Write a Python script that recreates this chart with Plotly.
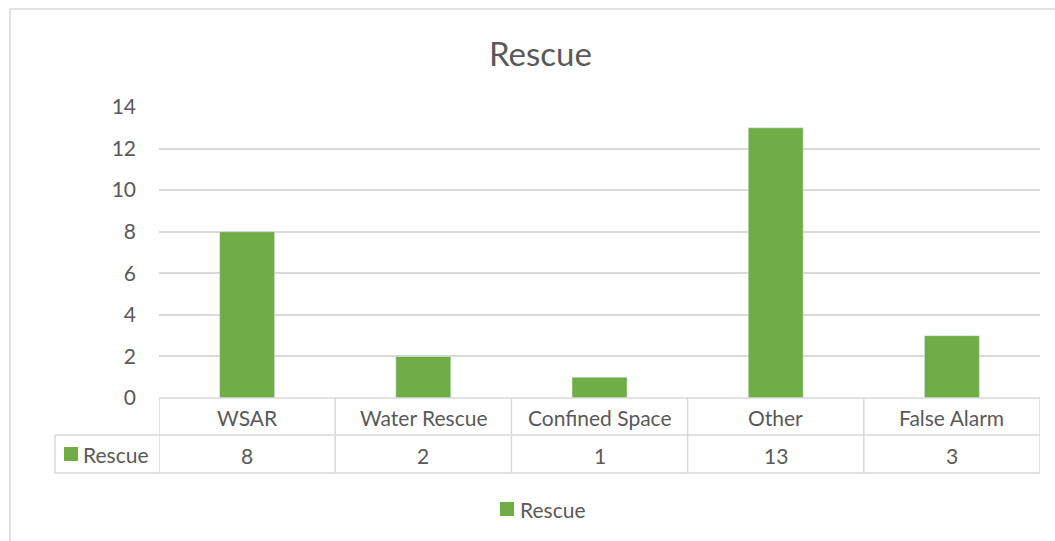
import plotly.graph_objects as go

categories = ['WSAR', 'Water Rescue', 'Confined Space', 'Other', 'False Alarm']
rescue = [8, 2, 1, 13, 3]
series_name = 'Rescue'
y_ticks = [0, 2, 4, 6, 8, 10, 12, 14]

W, H = 1055, 541
L, R, T, B = 159, 1040, 107, 398   # plot area in pixels
FONT = 'Lato'
GREY_TXT = '#595959'
GRID = '#d9d9d9'
GREEN = '#70ad47'
TXT = dict(size=21, color=GREY_TXT, family=FONT)

def py(p):
    # pixel y -> paper y
    return (B - p) / (B - T)

def px_(p):
    return (p - L) / (R - L)

xs = list(range(len(categories)))

fig = go.Figure()
fig.add_trace(go.Bar(x=xs, y=rescue, name=series_name, marker_color=GREEN,
                     width=0.312, showlegend=False))

shapes = []
annotations = []
line = dict(color=GRID, width=1.5)

# outer chart border (left + top)
shapes.append(dict(type='line', xref='paper', yref='paper', x0=px_(10), x1=px_(1060),
                   y0=py(9), y1=py(9), line=line))
shapes.append(dict(type='line', xref='paper', yref='paper', x0=px_(10), x1=px_(10),
                   y0=py(9), y1=py(545), line=line))

# data table lines
row1, row2 = 435, 473
left_cell = 55
shapes.append(dict(type='line', xref='paper', yref='paper', x0=0, x1=1,
                   y0=py(B), y1=py(B), line=line))
for yy in [row1, row2]:
    shapes.append(dict(type='line', xref='paper', yref='paper', x0=px_(left_cell), x1=1,
                       y0=py(yy), y1=py(yy), line=line))
shapes.append(dict(type='line', xref='paper', yref='paper', x0=px_(left_cell), x1=px_(left_cell),
                   y0=py(row1), y1=py(row2), line=line))
for i in range(len(categories) + 1):
    shapes.append(dict(type='line', xref='x', yref='paper', x0=i - 0.5, x1=i - 0.5,
                       y0=0, y1=py(row2), line=line))

for i, (c, v) in enumerate(zip(categories, rescue)):
    annotations.append(dict(x=i, y=py(417), xref='x', yref='paper', text=c, yanchor='middle',
                            showarrow=False, font=TXT))
    annotations.append(dict(x=i, y=py(455), xref='x', yref='paper', text=str(v), yanchor='middle',
                            showarrow=False, font=TXT))

# series label in table
shapes.append(dict(type='rect', xref='paper', yref='paper', x0=px_(64), x1=px_(78),
                   y0=py(461), y1=py(447), fillcolor=GREEN, line=dict(width=0)))
annotations.append(dict(x=px_(81), y=py(454), xref='paper', yref='paper', text=series_name,
                        xanchor='left', yanchor='middle', showarrow=False, font=TXT))

# bottom legend
shapes.append(dict(type='rect', xref='paper', yref='paper', x0=px_(500), x1=px_(514),
                   y0=py(516), y1=py(502), fillcolor=GREEN, line=dict(width=0)))
annotations.append(dict(x=px_(518), y=py(509), xref='paper', yref='paper', text=series_name,
                        xanchor='left', yanchor='middle', showarrow=False, font=TXT))

# title
annotations.append(dict(x=px_(540), y=py(53), xref='paper', yref='paper', text='Rescue',
                        yanchor='middle', showarrow=False,
                        font=dict(size=33, color=GREY_TXT, family=FONT)))

fig.update_layout(
    width=W, height=H, autosize=False,
    margin=dict(l=L, r=W - R, t=T, b=H - B, pad=0),
    plot_bgcolor='white', paper_bgcolor='white',
    shapes=shapes, annotations=annotations,
)
fig.update_xaxes(range=[-0.5, len(categories) - 0.5], showticklabels=False, showgrid=False,
                 zeroline=False, showline=False)
fig.update_yaxes(range=[0, 14], tickvals=y_ticks, showgrid=True, gridcolor=GRID, gridwidth=1.5,
                 zeroline=False, showline=False, ticks='', ticklabelstandoff=22,
                 tickfont=TXT)

fig.write_html("out.html", config={'displayModeBar': False},
               post_script="document.body.style.margin='0';document.body.style.overflow='hidden';")
